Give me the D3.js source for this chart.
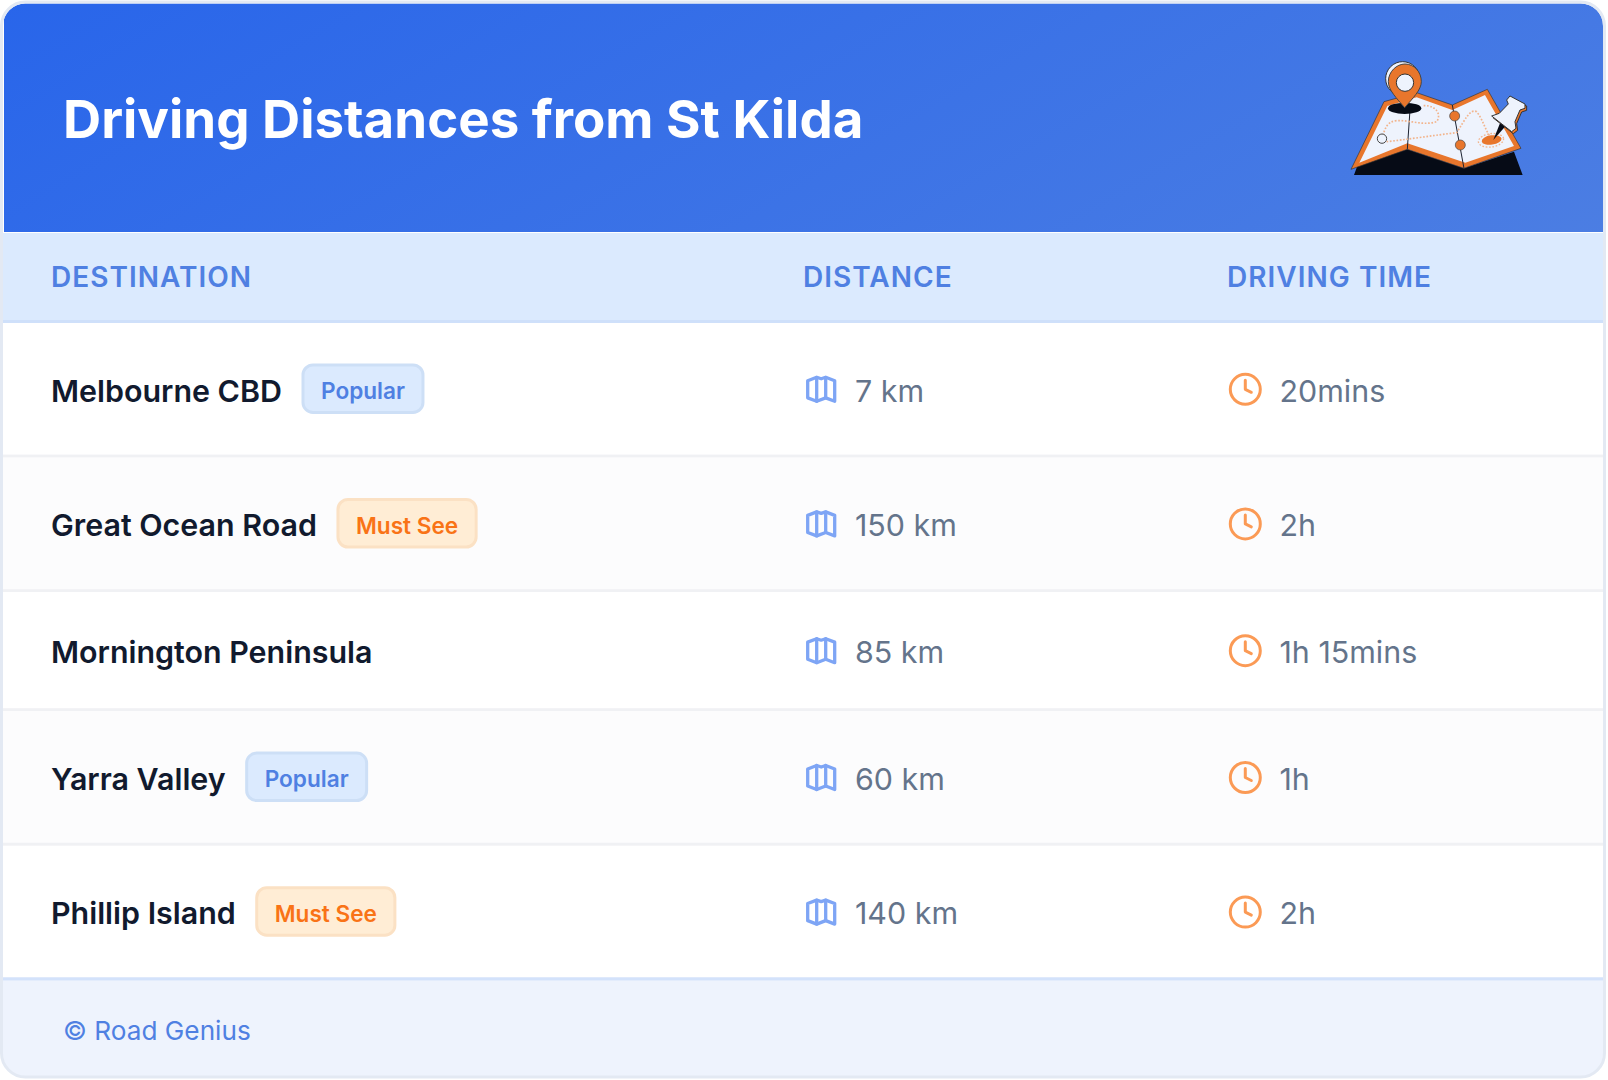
<!DOCTYPE html>
<html>
<head>
<meta charset="utf-8">
<script src="https://cdn.jsdelivr.net/npm/d3@7"></script>
<style>
  html, body { margin: 0; padding: 0; background: #fff; }
  svg { display: block; font-family: Inter, sans-serif; }
</style>
</head>
<body>
<div id="chart"></div>
<script>
const title = "Driving Distances from St Kilda";
const columns = ["DESTINATION", "DISTANCE", "DRIVING TIME"];
const destinations = ["Melbourne CBD", "Great Ocean Road", "Mornington Peninsula", "Yarra Valley", "Phillip Island"];
const badges = ["Popular", "Must See", null, "Popular", "Must See"];
const distances = ["7 km", "150 km", "85 km", "60 km", "140 km"];
const times = ["20mins", "2h", "1h 15mins", "1h", "2h"];
const footer = "© Road Genius";

const width = 1608, height = 1080;
const svg = d3.select("#chart").append("svg").attr("width", width).attr("height", height);
const defs = svg.append("defs");

const grad = defs.append("linearGradient").attr("id", "head")
    .attr("gradientUnits", "userSpaceOnUse")
    .attr("x1", 500).attr("y1", -400).attr("x2", 1110).attr("y2", 640);
grad.append("stop").attr("offset", "0%").attr("stop-color", "#2563eb");
grad.append("stop").attr("offset", "100%").attr("stop-color", "#4f80e2");
defs.append("clipPath").attr("id", "card").append("rect")
    .attr("x", 3).attr("y", 3.5).attr("width", 1600).attr("height", 1073).attr("rx", 22);

const colX = d3.scaleOrdinal().domain(columns).range([51, 803, 1227]);

// row heights: rows holding a badge are taller
const rowH = badges.map(b => b ? 134.6 : 119);
const rowTop = d3.cumsum([323, ...rowH]);
const rowMid = i => rowTop[i] + rowH[i] / 2;
const tableEnd = rowTop[rowTop.length - 1];

const card = svg.append("g").attr("clip-path", "url(#card)");
card.append("rect").attr("width", width).attr("height", height).attr("fill", "#fff");
card.append("rect").attr("x", 4).attr("width", width - 8).attr("height", 232).attr("fill", "url(#head)");
card.append("rect").attr("y", 233).attr("width", width).attr("height", 90).attr("fill", "#dbeafe");
card.append("rect").attr("y", 320).attr("width", width).attr("height", 3).attr("fill", "#cfe0fa");

svg.append("text").attr("x", 63).attr("y", 138)
    .attr("font-size", 52.8).attr("font-weight", 700).attr("fill", "#fff").text(title);

svg.selectAll(".col").data(columns).join("text").attr("class", "col")
    .attr("x", d => colX(d)).attr("y", 287)
    .attr("font-size", 28).attr("font-weight", 600).attr("letter-spacing", 1.03)
    .attr("fill", "#4f80e2").text(d => d);

const rows = card.selectAll(".row").data(destinations).join("g").attr("class", "row");
rows.append("rect").attr("y", (d, i) => rowTop[i]).attr("width", width).attr("height", (d, i) => rowH[i])
    .attr("fill", (d, i) => i % 2 ? "#fcfcfd" : "#fff");
rows.append("rect").attr("y", (d, i) => rowTop[i] + rowH[i] - 3).attr("width", width).attr("height", 3)
    .attr("fill", "#f0f1f4");

const names = svg.selectAll(".name").data(destinations).join("text").attr("class", "name")
    .attr("x", colX(columns[0])).attr("y", (d, i) => rowMid(i) + 11.3)
    .attr("font-size", 30.4).attr("font-weight", 560).attr("fill", "#111a2e").text(d => d);

// badges sit just after the destination name
const badgeStyle = {
  "Popular": { fill: "#dbeafe", stroke: "#cddff6", text: "#4f80e2" },
  "Must See": { fill: "#ffedd5", stroke: "#fbe1c4", text: "#f97316" }
};
names.each(function(d, i) {
  if (!badges[i]) return;
  const x = this.getComputedTextLength() + colX(columns[0]) + 21;
  const g = svg.append("g");
  const t = g.append("text").attr("y", rowMid(i) + 8.7)
      .attr("font-size", 22.6).attr("font-weight", 600)
      .attr("fill", badgeStyle[badges[i]].text).text(badges[i]);
  const w = t.node().getComputedTextLength();
  t.attr("x", x + 18);
  g.insert("rect", "text").attr("x", x).attr("y", rowMid(i) - 25.4)
      .attr("width", w + 36).attr("height", 47.5).attr("rx", 10)
      .attr("fill", badgeStyle[badges[i]].fill)
      .attr("stroke", badgeStyle[badges[i]].stroke).attr("stroke-width", 3);
});

const valueX = [855, 1279.5];
[distances, times].forEach((vals, c) => {
  svg.selectAll(".val" + c).data(vals).join("text").attr("class", "val" + c)
      .attr("x", valueX[c]).attr("y", (d, i) => rowMid(i) + 11.3)
      .attr("font-size", 30.4).attr("font-weight", 400).attr("fill", "#64748b").text(d => d);
});

// map icon, clock icon (24 unit outline style)
const mapIcon = svg.selectAll(".mapicon").data(distances).join("g").attr("class", "mapicon")
    .attr("transform", (d, i) => `translate(${803.2},${rowMid(i) - 19}) scale(1.5)`)
    .attr("fill", "none").attr("stroke", "#7ea5f5").attr("stroke-width", 2.2)
    .attr("stroke-linecap", "round").attr("stroke-linejoin", "round");
mapIcon.append("path").attr("d", "M3 6.3 L9 4 L12 5 L15 4 L21 6.3 V20 L15 17.7 L9 20 L3 17.7 Z");
mapIcon.append("path").attr("d", "M9 4 V20 M15 4 V17.7");

const clockIcon = svg.selectAll(".clockicon").data(times).join("g").attr("class", "clockicon")
    .attr("transform", (d, i) => `translate(${1227.3},${rowMid(i) - 19}) scale(1.5)`)
    .attr("fill", "none").attr("stroke", "#fb9a55").attr("stroke-width", 2)
    .attr("stroke-linecap", "round").attr("stroke-linejoin", "round");
clockIcon.append("circle").attr("cx", 12).attr("cy", 12).attr("r", 10);
clockIcon.append("path").attr("d", "M12 6 V12 L16 14");

// footer
card.append("rect").attr("y", tableEnd - 3).attr("width", width).attr("height", 110).attr("fill", "#eef3fd");
card.append("rect").attr("y", tableEnd - 3).attr("width", width).attr("height", 3).attr("fill", "#d3e2fb");
svg.append("text").attr("x", 63).attr("y", 1040).attr("font-size", 26.2).attr("fill", "#4f80e2").text(footer);

svg.append("rect").attr("x", 1.5).attr("y", 2).attr("width", 1603).attr("height", 1075).attr("rx", 24)
    .attr("fill", "none").attr("stroke", "#e3e9f3").attr("stroke-width", 3);

// map illustration, drawn in 3x crop units
const art = svg.append("g").attr("transform", "translate(1290,40) scale(0.3333)");
const ink = "#060b16", orange = "#e8762c", paper = "#eef3fd";
art.append("path").attr("d", "M192 405 L205 370 L352 328 L522 385 L672 335 L698 405 Z").attr("fill", ink);
art.append("path").attr("d", "M183 388 L282 185 L380 158 L487 195 L592 148 L693 325 L522 385 L352 328 Z")
    .attr("fill", orange).attr("stroke", "#333").attr("stroke-width", 2).attr("stroke-linejoin", "round");
art.append("path").attr("d", "M208 368 L292 198 L380 172 L487 210 L585 165 L672 318 L526 368 L352 310 Z").attr("fill", paper);
art.append("path").attr("d", "M360 210 L352 328 M487 195 L522 385").attr("fill", "none").attr("stroke", "#1c2230").attr("stroke-width", 3);
art.append("path").attr("d", "M276 296 C285 265 290 245 320 242 C360 240 400 258 440 245 C455 225 440 195 400 197 M290 305 C340 300 440 285 500 278 C525 240 540 205 560 215 C580 240 585 270 600 288")
    .attr("fill", "none").attr("stroke", "#f2b48c").attr("stroke-width", 5).attr("stroke-dasharray", "5 5");
art.append("ellipse").attr("cx", 344).attr("cy", 205).attr("rx", 50).attr("ry", 17).attr("fill", ink);
art.append("ellipse").attr("cx", 603).attr("cy", 301).attr("rx", 38).attr("ry", 20)
    .attr("transform", "rotate(-8 603 301)").attr("fill", "none")
    .attr("stroke", "#f2b48c").attr("stroke-width", 4).attr("stroke-dasharray", "5 5");
art.append("ellipse").attr("cx", 605).attr("cy", 300).attr("rx", 30).attr("ry", 14)
    .attr("transform", "rotate(-8 605 300)").attr("fill", orange);
art.append("circle").attr("cx", 276).attr("cy", 296).attr("r", 14).attr("fill", paper).attr("stroke", "#444").attr("stroke-width", 3);
[[494, 228], [511, 315]].forEach(p => art.append("circle").attr("cx", p[0]).attr("cy", p[1]).attr("r", 15)
    .attr("fill", orange).attr("stroke", "#444").attr("stroke-width", 2));
art.append("circle").attr("cx", 338).attr("cy", 116).attr("r", 51).attr("fill", paper).attr("stroke", "#333").attr("stroke-width", 3);
art.append("path").attr("d", "M344 203 C320 175 295 150 295 125 C295 95 320 72 345 72 C372 72 394 95 394 125 C394 150 368 175 344 203 Z")
    .attr("fill", orange).attr("stroke", "#444").attr("stroke-width", 3);
art.append("circle").attr("cx", 345).attr("cy", 128).attr("r", 26).attr("fill", paper).attr("stroke", "#333").attr("stroke-width", 3);

// thumbtack, same units
const headShape = "M605 228 L628 220 L655 192 L650 180 L660 168 L705 192 L705 205 L690 210 L675 245 L678 265 L665 275 Z";
art.append("path").attr("d", headShape).attr("transform", "translate(5,6)").attr("fill", orange).attr("stroke", "#333").attr("stroke-width", 3);
art.append("path").attr("d", "M610 300 L630 250 L645 260 Z").attr("fill", ink);
art.append("path").attr("d", headShape).attr("fill", paper).attr("stroke", "#333").attr("stroke-width", 3).attr("stroke-linejoin", "round");
</script>
</body>
</html>
